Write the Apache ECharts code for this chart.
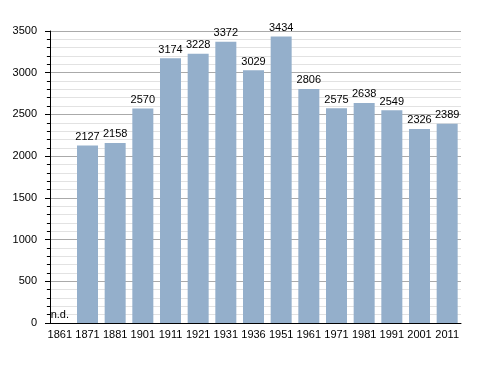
<!DOCTYPE html>
<html><head><meta charset="utf-8">
<script src="https://cdn.jsdelivr.net/npm/echarts@6/dist/echarts.min.js"></script>
<style>html,body{margin:0;padding:0;background:#fff}#c{width:488px;height:373px}</style>
</head><body><div id="c"></div>
<script>
var years = ['1861','1871','1881','1901','1911','1921','1931','1936','1951','1961','1971','1981','1991','2001','2011'];
var population = [null,2127,2158,2570,3174,3228,3372,3029,3434,2806,2575,2638,2549,2326,2389];
var yTicks = [0,500,1000,1500,2000,2500,3000,3500];
var missingLabel = 'n.d.';

var data = population.map(function(v){
  if (v === null) return {value: 0, label: {formatter: missingLabel}};
  return v;
});

var chart = echarts.init(document.getElementById('c'), null, {renderer:'canvas'});
chart.setOption({
  backgroundColor: '#fff',
  animation: false,
  grid: {left: 46, right: 27, top: 31, bottom: 50},
  xAxis: {
    type: 'category', data: years,
    axisLine: {lineStyle: {color: '#000', width: 1}},
    axisTick: {show: false},
    axisLabel: {color: '#000', fontSize: 11, fontFamily: 'Liberation Sans, Arial', margin: 6, interval: 0}
  },
  yAxis: {
    type: 'value', min: yTicks[0], max: yTicks[yTicks.length-1], interval: 500,
    offset: -4,
    axisLine: {show: true, lineStyle: {color: '#000', width: 1}},
    axisTick: {show: true, length: 5, lineStyle: {color: '#000'}},
    minorTick: {show: true, splitNumber: 5, length: 3, lineStyle: {color: '#000'}},
    axisLabel: {color: '#000', fontSize: 11, fontFamily: 'Liberation Sans, Arial', margin: 13,
      formatter: function(v){ return String(v); }},
    splitLine: {show: true, lineStyle: {color: '#aaa', width: 1}},
    minorSplitLine: {show: true, lineStyle: {color: '#e2e2e2', width: 1}}
  },
  series: [{
    type: 'bar', data: data, barWidth: 21,
    itemStyle: {color: '#94afcb'},
    label: {show: true, position: 'top', distance: 3, color: '#000', fontSize: 11, fontFamily: 'Liberation Sans, Arial'}
  }]
});
</script></body></html>
